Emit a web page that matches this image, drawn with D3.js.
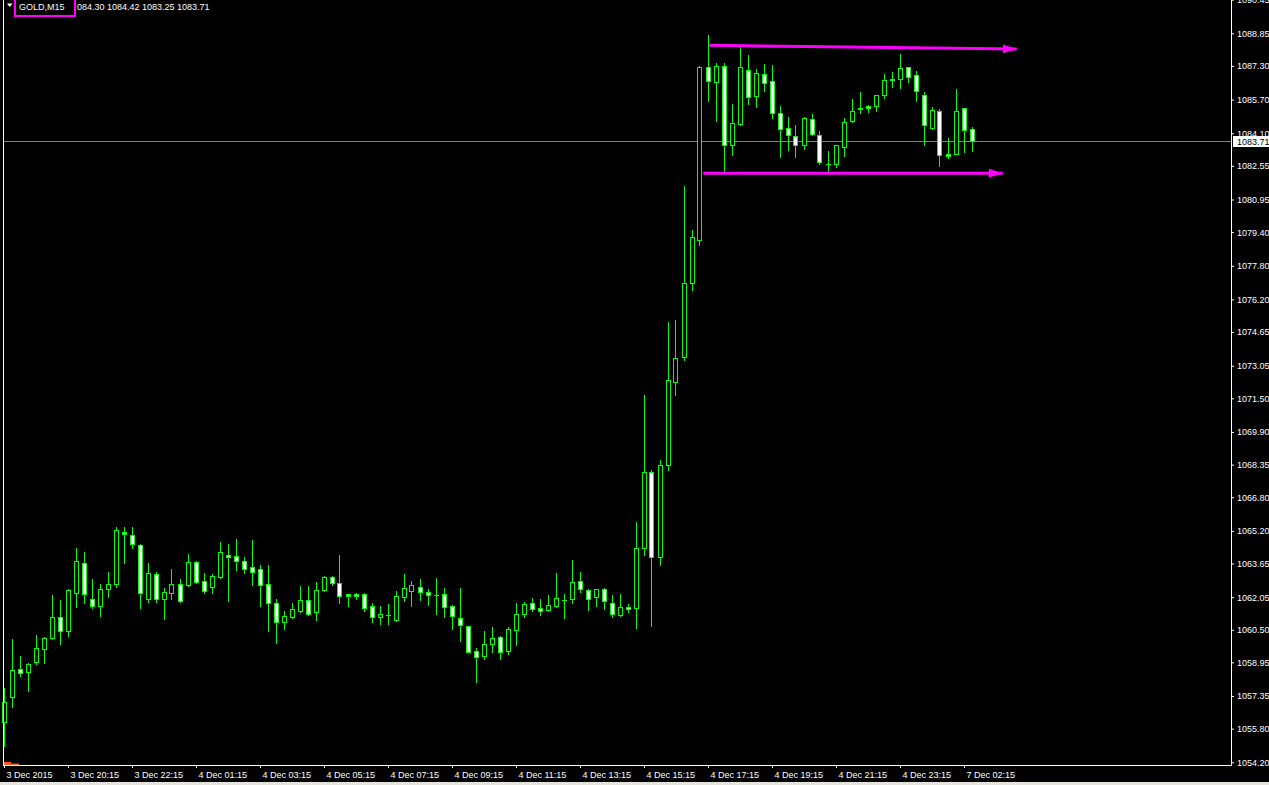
<!DOCTYPE html>
<html>
<head>
<meta charset="utf-8">
<script src="https://cdn.jsdelivr.net/npm/d3@7"></script>
<style>
  html, body { margin: 0; padding: 0; background: #000; overflow: hidden; }
  svg { display: block; }
  text { font-family: "Liberation Sans", Arial, sans-serif; font-size: 9px; fill: #fff; }
</style>
</head>
<body>
<div class="chart"></div>
<script>
const symbol = "GOLD,M15";
const headerQuote = "084.30 1084.42 1083.25 1083.71";
const lastPrice = 1083.71;

// one value per M15 bar, bar 0 = 3 Dec 2015 18:15
const opens = [1056.12,1057.30,1058.64,1058.49,1058.97,1059.59,1060.11,1061.11,1060.44,1062.25,
  1063.67,1061.96,1061.63,1062.44,1062.68,1065.15,1065.00,1064.53,1061.96,1063.15,
  1061.96,1062.25,1062.68,1062.63,1063.72,1062.82,1062.53,1063.01,1064.05,1064.01,
  1063.77,1063.48,1063.39,1062.68,1061.77,1060.87,1061.11,1061.39,1061.92,1061.34,
  1062.39,1063.01,1062.72,1062.20,1062.20,1062.20,1061.63,1061.11,1061.20,1060.96,
  1062.06,1062.34,1062.53,1062.30,1062.15,1062.20,1061.63,1061.06,1060.68,1059.49,
  1059.25,1059.82,1060.16,1059.49,1060.49,1061.25,1061.77,1061.54,1061.44,1061.63,
  1061.92,1061.96,1062.82,1062.39,1062.06,1062.44,1061.77,1061.20,1061.58,1061.54,
  1064.39,1068.00,1063.96,1068.32,1072.27,1073.46,1076.98,1079.03,1087.25,1086.54,
  1087.30,1083.54,1084.54,1087.11,1085.87,1086.92,1086.58,1085.06,1084.35,1083.97,
  1083.54,1084.77,1084.02,1082.64,1082.64,1083.44,1084.68,1085.25,1085.39,1085.39,
  1085.92,1086.63,1086.68,1087.25,1086.87,1085.92,1084.35,1085.16,1083.11,1083.11,
  1085.30,1084.30];
const highs = [1057.73,1060.06,1059.25,1058.92,1060.25,1060.16,1062.15,1061.92,1062.42,1064.39,
  1064.20,1062.91,1062.68,1063.25,1065.38,1065.38,1065.38,1064.58,1063.67,1063.25,
  1062.49,1063.39,1062.91,1064.10,1063.77,1063.20,1063.15,1064.67,1064.58,1064.81,
  1063.96,1064.77,1063.58,1063.58,1061.96,1061.39,1061.77,1062.58,1062.58,1062.77,
  1063.04,1063.06,1064.05,1062.22,1062.25,1062.25,1061.77,1061.63,1061.72,1062.34,
  1063.15,1062.82,1062.91,1062.44,1062.96,1062.49,1061.68,1062.49,1060.70,1059.63,
  1060.44,1060.63,1060.20,1060.63,1061.77,1061.82,1062.01,1061.96,1062.15,1063.20,
  1062.20,1063.82,1063.25,1062.44,1062.46,1062.49,1062.15,1062.20,1061.72,1065.62,
  1071.66,1068.08,1068.57,1075.13,1075.22,1081.59,1079.50,1087.30,1088.77,1087.44,
  1087.44,1085.49,1088.20,1087.82,1087.15,1087.39,1087.34,1085.39,1084.87,1084.49,
  1084.87,1085.01,1084.21,1083.26,1083.56,1084.82,1085.73,1086.06,1085.44,1085.94,
  1086.92,1087.01,1087.87,1087.27,1087.06,1086.06,1085.35,1085.25,1083.87,1086.20,
  1085.32,1084.42];
const lows = [1054.98,1056.83,1058.30,1057.59,1058.87,1058.92,1060.06,1059.82,1060.20,1061.58,
  1061.77,1061.54,1061.15,1062.06,1062.53,1063.67,1064.39,1061.54,1061.82,1061.82,
  1061.01,1061.96,1061.82,1062.60,1062.72,1062.25,1062.25,1062.98,1061.87,1063.34,
  1063.20,1062.63,1061.63,1060.44,1059.87,1060.54,1061.08,1061.36,1061.20,1060.96,
  1062.34,1062.63,1061.77,1061.63,1061.96,1061.39,1060.87,1060.77,1060.77,1060.94,
  1061.87,1061.63,1061.92,1061.68,1061.25,1061.11,1060.54,1059.97,1059.42,1058.02,
  1059.11,1059.44,1059.11,1059.35,1059.78,1061.11,1061.39,1061.20,1061.39,1061.58,
  1061.06,1061.77,1062.30,1061.44,1061.63,1061.49,1061.11,1061.15,1061.34,1060.58,
  1064.05,1060.68,1063.58,1068.08,1071.66,1073.32,1076.65,1078.79,1085.63,1084.68,
  1082.26,1083.07,1084.49,1085.49,1085.35,1086.11,1084.82,1082.97,1083.30,1082.97,
  1083.35,1084.02,1082.64,1082.26,1082.49,1083.02,1084.63,1085.06,1085.11,1085.16,
  1085.78,1086.30,1086.25,1086.54,1085.63,1083.54,1084.30,1082.54,1082.92,1083.09,
  1083.21,1083.25];
const closes = [1057.07,1058.59,1058.45,1058.87,1059.63,1060.11,1061.11,1060.44,1062.39,1063.77,
  1062.20,1061.63,1062.44,1062.68,1065.24,1065.05,1064.58,1062.25,1063.20,1061.96,
  1062.30,1062.68,1061.87,1063.72,1062.77,1062.34,1063.06,1064.20,1063.96,1063.77,
  1063.39,1063.25,1062.63,1061.77,1060.87,1061.15,1061.49,1061.92,1061.25,1062.39,
  1063.01,1062.72,1062.11,1062.11,1062.11,1061.54,1061.11,1061.25,1061.22,1062.11,
  1062.49,1062.63,1062.30,1062.15,1062.13,1061.58,1061.15,1060.73,1059.44,1059.21,
  1059.82,1060.11,1059.44,1060.54,1061.25,1061.73,1061.49,1061.39,1061.68,1062.01,
  1061.90,1062.77,1062.44,1061.96,1062.44,1061.87,1061.25,1061.58,1061.49,1064.39,
  1068.00,1063.96,1068.32,1072.37,1073.42,1076.98,1079.17,1087.25,1086.58,1087.30,
  1083.54,1084.59,1087.25,1085.82,1086.96,1086.49,1085.06,1084.30,1084.02,1083.54,
  1084.82,1084.06,1082.73,1082.66,1083.54,1084.63,1085.16,1085.30,1085.30,1085.92,
  1086.63,1086.68,1087.20,1086.77,1086.11,1084.49,1085.20,1083.07,1083.02,1085.16,
  1084.25,1083.71];

const timeLabelBars = [0, 8, 16, 24, 32, 40, 48, 56, 64, 72, 80, 88, 96, 104, 112, 120];
const timeLabels = ["3 Dec 2015", "3 Dec 20:15", "3 Dec 22:15", "4 Dec 01:15", "4 Dec 03:15",
  "4 Dec 05:15", "4 Dec 07:15", "4 Dec 09:15", "4 Dec 11:15", "4 Dec 13:15", "4 Dec 15:15",
  "4 Dec 17:15", "4 Dec 19:15", "4 Dec 21:15", "4 Dec 23:15", "7 Dec 02:15"];
const priceTicks = [1054.20, 1055.80, 1057.35, 1058.95, 1060.50, 1062.05, 1063.65, 1065.20,
  1066.80, 1068.35, 1069.90, 1071.50, 1073.05, 1074.65, 1076.20, 1077.80, 1079.40, 1080.95,
  1082.55, 1084.10, 1085.70, 1087.30, 1088.85, 1090.45];

// drawn trend lines: [bar, price]
const channelTop = [[88.15, 1088.28], [126.6, 1088.10]];
const channelBottom = [[87.4, 1082.20], [124.85, 1082.20]];
// lower indicator remnant, first two bars
const indicatorValues = [1.0, 0.5];

const w = 1269;
const h = 785;
const plotL = 4;
const plotR = 1231;
const plotB = 765;

const bars = opens.map((o, i) => ({ i, o, h: highs[i], l: lows[i], c: closes[i] }));

const x = d3.scaleLinear().domain([0, (plotR - plotL) / 8]).range([plotL, plotR]);
const y = d3.scaleLinear().domain([1054.072, 1090.433]).range([plotB, 0]);
const yInd = d3.scaleLinear().domain([0, 10]).range([plotB, plotB - 30]);

const svg = d3.select(".chart")
  .append("svg")
  .attr("width", w)
  .attr("height", h);

svg.append("rect").attr("width", w).attr("height", h).attr("fill", "#000");

const px = v => Math.floor(v) + 0.5;
const py = v => Math.round(v) + 0.5;

// current price line
svg.append("line")
  .attr("x1", plotL).attr("x2", plotR)
  .attr("y1", py(y(lastPrice))).attr("y2", py(y(lastPrice)))
  .attr("stroke", "#6f849a")
  .attr("shape-rendering", "crispEdges");

const candles = svg.append("g").attr("shape-rendering", "crispEdges");

candles.selectAll(".wick")
  .data(bars)
  .enter()
  .append("line")
  .attr("class", "wick")
  .attr("x1", d => px(x(d.i))).attr("x2", d => px(x(d.i)))
  .attr("y1", d => Math.round(y(d.h)))
  .attr("y2", d => Math.round(y(d.l)) + 1)
  .attr("stroke", "#00ff00");

candles.selectAll(".body")
  .data(bars.filter(d => Math.abs(Math.round(y(d.o)) - Math.round(y(d.c))) >= 1))
  .enter()
  .append("rect")
  .attr("class", "body")
  .attr("x", d => px(x(d.i)) - 2)
  .attr("width", 4)
  .attr("y", d => py(y(Math.max(d.o, d.c))))
  .attr("height", d => Math.round(y(Math.min(d.o, d.c))) - Math.round(y(Math.max(d.o, d.c))))
  .attr("fill", d => d.c < d.o ? "#fff" : "#000")
  .attr("stroke", "#00ff00");

candles.selectAll(".doji")
  .data(bars.filter(d => Math.abs(Math.round(y(d.o)) - Math.round(y(d.c))) < 1))
  .enter()
  .append("line")
  .attr("class", "doji")
  .attr("x1", d => px(x(d.i)) - 2.5).attr("x2", d => px(x(d.i)) + 2.5)
  .attr("y1", d => py(y(d.c))).attr("y2", d => py(y(d.c)))
  .attr("stroke", "#00ff00");

// indicator remnant at the bottom left
svg.append("g")
  .selectAll("rect")
  .data(indicatorValues)
  .enter()
  .append("rect")
  .attr("x", (d, i) => x(i) - 1)
  .attr("width", 8)
  .attr("y", d => yInd(d))
  .attr("height", d => plotB - yInd(d))
  .attr("fill", "#ff5a1e");

// trend lines with arrows
svg.append("defs")
  .append("marker")
  .attr("id", "arrow")
  .attr("markerUnits", "userSpaceOnUse")
  .attr("markerWidth", 15).attr("markerHeight", 10)
  .attr("refX", 14).attr("refY", 4.5)
  .attr("orient", "auto")
  .append("path")
  .attr("d", "M0,0L14,4.5L0,9Z")
  .attr("fill", "#ff00ff");

const trend = d3.line().x(d => x(d[0])).y(d => y(d[1]));
[channelTop, channelBottom].forEach(pts => {
  svg.append("path")
    .attr("d", trend(pts))
    .attr("fill", "none")
    .attr("stroke", "#ff00ff")
    .attr("stroke-width", 3)
    .attr("marker-end", "url(#arrow)");
});

// frame
svg.append("line")
  .attr("x1", 3.5).attr("x2", 3.5).attr("y1", 0).attr("y2", plotB + 0.5)
  .attr("stroke", "#fff").attr("shape-rendering", "crispEdges");

const xAxis = d3.axisBottom(x)
  .tickValues(timeLabelBars)
  .tickFormat((d, i) => timeLabels[i])
  .tickSize(3)
  .tickSizeOuter(0)
  .tickPadding(4);

const xAxisLine = svg.append("g")
  .attr("id", "x-axis")
  .attr("transform", `translate(0, ${plotB})`)
  .call(xAxis);
xAxisLine.select(".domain").attr("d", `M3,0.5H${plotR + 0.5}`);
xAxisLine.selectAll("line").attr("stroke", "#fff");
xAxisLine.selectAll("path").attr("stroke", "#fff");
xAxisLine.selectAll("text")
  .attr("text-anchor", "start")
  .attr("x", 2)
  .attr("fill", "#fff")
  .style("font-family", "'Liberation Sans', Arial, sans-serif")
  .style("font-size", "9px");

const yAxis = d3.axisRight(y)
  .tickValues(priceTicks)
  .tickFormat(d3.format(".2f"))
  .tickSize(3)
  .tickSizeOuter(0)
  .tickPadding(3);

const yAxisLine = svg.append("g")
  .attr("id", "y-axis")
  .attr("transform", `translate(${plotR}, 0)`)
  .call(yAxis);
yAxisLine.select(".domain").attr("d", `M0.5,0V${plotB + 0.5}`);
yAxisLine.selectAll("line").attr("stroke", "#fff");
yAxisLine.selectAll("path").attr("stroke", "#fff");
yAxisLine.selectAll("text")
  .attr("fill", "#fff")
  .style("font-family", "'Liberation Sans', Arial, sans-serif")
  .style("font-size", "9px");

// last price tag
const tagY = y(lastPrice);
svg.append("rect")
  .attr("x", plotR + 2).attr("y", Math.round(tagY) - 5)
  .attr("width", w - plotR - 2).attr("height", 11)
  .attr("fill", "#fff");
svg.append("text")
  .attr("x", plotR + 6).attr("y", tagY + 3.5)
  .style("fill", "#000")
  .text(lastPrice.toFixed(2));

// header
svg.append("path")
  .attr("d", "M7,3.5L12.5,3.5L9.75,7Z")
  .attr("fill", "#fff");
svg.append("text").attr("x", 19).attr("y", 9.5).text(symbol);
svg.append("text").attr("x", 77).attr("y", 9.5).text(headerQuote);
svg.append("rect")
  .attr("x", 15).attr("y", -1)
  .attr("width", 60).attr("height", 17)
  .attr("fill", "none")
  .attr("stroke", "#ff00ff")
  .attr("stroke-width", 2);

// window frame strip
svg.append("rect")
  .attr("x", 0).attr("y", h - 3)
  .attr("width", w).attr("height", 3)
  .attr("fill", "#e4e4dc");
</script>
</body>
</html>
